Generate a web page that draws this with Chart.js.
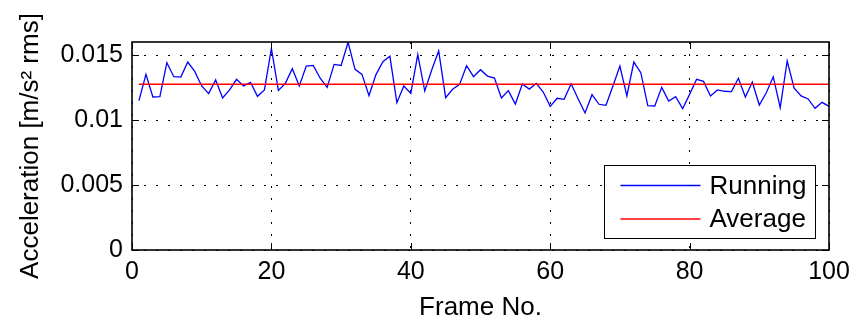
<!DOCTYPE html>
<html>
<head>
<meta charset="utf-8">
<script src="https://cdn.jsdelivr.net/npm/chart.js@4.4.1/dist/chart.umd.min.js"></script>
<style>
    html, body { margin: 0; padding: 0; background: #fff; }
</style>
</head>
<body>
<canvas class="accel-chart" width="858" height="323"></canvas>
<script>
// frame numbers 1..100
const frames = Array.from({length: 100}, (_, i) => i + 1);

const running = [
    0.01149, 0.01351, 0.01177, 0.01179, 0.01441, 0.01333, 0.01330, 0.01446, 0.01374, 0.01262,
    0.01203, 0.01308, 0.01169, 0.01231, 0.01313, 0.01262, 0.01290, 0.01182, 0.01231, 0.01551,
    0.01228, 0.01282, 0.01395, 0.01262, 0.01415, 0.01420, 0.01321, 0.01251, 0.01428, 0.01420,
    0.01598, 0.01390, 0.01351, 0.01187, 0.01349, 0.01449, 0.01490, 0.01133, 0.01262, 0.01205,
    0.01503, 0.01223, 0.01385, 0.01531, 0.01172, 0.01236, 0.01274, 0.01418, 0.01333, 0.01387,
    0.01338, 0.01323, 0.01169, 0.01226, 0.01123, 0.01277, 0.01238, 0.01282, 0.01215, 0.01105,
    0.01167, 0.01159, 0.01279, 0.01164, 0.01054, 0.01195, 0.01121, 0.01113, 0.01262, 0.01415,
    0.01185, 0.01446, 0.01364, 0.01110, 0.01108, 0.01251, 0.01146, 0.01179, 0.01087, 0.01197,
    0.01313, 0.01297, 0.01185, 0.01231, 0.01221, 0.01218, 0.01321, 0.01177, 0.01292, 0.01115,
    0.01210, 0.01333, 0.01095, 0.01454, 0.01244, 0.01185, 0.01162, 0.01090, 0.01136, 0.01105
];

const averageValue = 0.01275;

const xTicks = [0, 20, 40, 60, 80, 100];
const yTicks = [0, 0.005, 0.01, 0.015];
const yTickLabels = ['0', '0.005', '0.01', '0.015'];

const seriesLabels = ['Running', 'Average'];
const seriesColors = ['#0000ff', '#ff0000'];

const FONT = '"Liberation Sans", Arial, sans-serif';

document.addEventListener('DOMContentLoaded', () => {
    const runningPoints = frames.map((f, i) => ({x: f, y: running[i]}));
    const averagePoints = [
        {x: frames[0], y: averageValue},
        {x: frames[frames.length - 1], y: averageValue}
    ];

    // box round the plot and MATLAB style inward ticks
    const axesBoxPlugin = {
        id: 'axesBox',
        afterDraw(chart) {
            const {ctx, chartArea: a, scales} = chart;
            const len = 7;
            ctx.save();
            ctx.strokeStyle = '#000';
            ctx.lineWidth = 1;
            ctx.beginPath();
            xTicks.forEach(v => {
                const px = Math.round(scales.x.getPixelForValue(v)) + 0.5;
                ctx.moveTo(px, a.bottom); ctx.lineTo(px, a.bottom - len);
                ctx.moveTo(px, a.top); ctx.lineTo(px, a.top + len);
            });
            yTicks.forEach(v => {
                const py = Math.round(scales.y.getPixelForValue(v)) + 0.5;
                ctx.moveTo(a.left, py); ctx.lineTo(a.left + len, py);
                ctx.moveTo(a.right, py); ctx.lineTo(a.right - len, py);
            });
            ctx.stroke();
            ctx.lineWidth = 1.6;
            ctx.strokeRect(a.left, a.top, a.right - a.left, a.bottom - a.top);
            ctx.restore();
        }
    };

    // boxed legend inside the plot, lower right
    const boxLegendPlugin = {
        id: 'boxLegend',
        afterDraw(chart) {
            const {ctx, chartArea: a} = chart;
            const w = 211, h = 73;
            const left = a.right - 14 - w + 0.5;
            const top = a.bottom - 12 - h + 0.5;
            ctx.save();
            ctx.fillStyle = '#fff';
            ctx.fillRect(left, top, w, h);
            ctx.strokeStyle = '#000';
            ctx.lineWidth = 1;
            ctx.strokeRect(left, top, w, h);

            ctx.font = '26px ' + FONT;
            ctx.textBaseline = 'middle';
            ctx.textAlign = 'left';
            chart.data.datasets.forEach((ds, i) => {
                const cy = top + 20 + i * 33.5;
                ctx.strokeStyle = ds.borderColor;
                ctx.lineWidth = 1.3;
                ctx.beginPath();
                ctx.moveTo(left + 16, cy);
                ctx.lineTo(left + 96, cy);
                ctx.stroke();
                ctx.fillStyle = '#000';
                ctx.fillText(ds.label, left + 105, cy + 1);
            });
            ctx.restore();
        }
    };

    new Chart(document.querySelector('.accel-chart'), {
        type: 'line',
        data: {
            datasets: [{
                label: seriesLabels[0],
                data: runningPoints,
                borderColor: seriesColors[0],
                backgroundColor: seriesColors[0],
                borderWidth: 1.3,
                pointRadius: 0,
                tension: 0,
                order: 1
            }, {
                label: seriesLabels[1],
                data: averagePoints,
                borderColor: seriesColors[1],
                backgroundColor: seriesColors[1],
                borderWidth: 1.3,
                pointRadius: 0,
                tension: 0,
                order: 0
            }]
        },
        options: {
            responsive: false,
            animation: false,
            layout: {padding: {top: 42, right: 29, left: 0, bottom: 0}},
            plugins: {
                legend: {display: false},
                tooltip: {enabled: false}
            },
            scales: {
                x: {
                    type: 'linear',
                    min: 0,
                    max: 100,
                    afterBuildTicks: scale => { scale.ticks = xTicks.map(v => ({value: v})); },
                    afterFit: scale => { scale.height = 73; },
                    ticks: {
                        color: '#000',
                        font: {family: FONT, size: 25},
                        padding: 7,
                        maxRotation: 0
                    },
                    grid: {color: '#000', lineWidth: 1, drawTicks: false},
                    border: {display: false, dash: [2, 10]},
                    title: {
                        display: true,
                        text: 'Frame No.',
                        color: '#000',
                        font: {family: FONT, size: 26},
                        padding: {top: 0, bottom: 0}
                    }
                },
                y: {
                    type: 'linear',
                    min: 0,
                    max: 0.016,
                    afterBuildTicks: scale => { scale.ticks = yTicks.map(v => ({value: v})); },
                    afterFit: scale => { scale.width = 132; },
                    ticks: {
                        color: '#000',
                        font: {family: FONT, size: 25},
                        padding: 9,
                        callback: (value, index) => yTickLabels[index]
                    },
                    grid: {color: '#000', lineWidth: 1, drawTicks: false},
                    border: {display: false, dash: [2, 10]},
                    title: {
                        display: true,
                        text: 'Acceleration [m/s\u00B2 rms]',
                        color: '#000',
                        font: {family: FONT, size: 26},
                        padding: {top: 15, bottom: 0}
                    }
                }
            }
        },
        plugins: [axesBoxPlugin, boxLegendPlugin]
    });
});
</script>
</body>
</html>
